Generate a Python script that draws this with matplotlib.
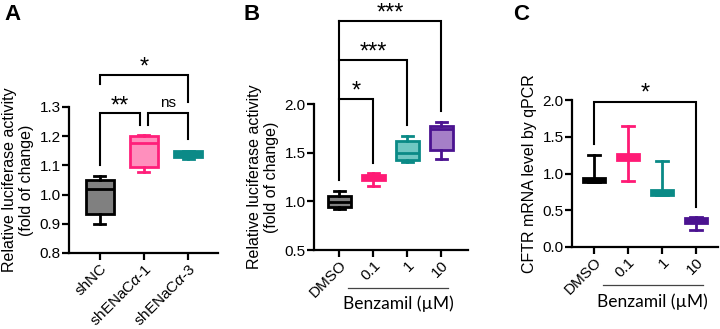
import matplotlib
matplotlib.use("Agg")
import matplotlib.pyplot as plt

plt.rcParams['font.family'] = ['Liberation Sans', 'DejaVu Sans']
plt.rcParams['mathtext.fontset'] = 'custom'
plt.rcParams['mathtext.it'] = 'Liberation Sans:italic'

# panel A: luciferase, shRNA
a_labels = ["shNC", "shENaC$\\it{\\alpha}$-1", "shENaC$\\it{\\alpha}$-3"]
a_min = [0.90, 1.076, 1.123]
a_q1 = [0.932, 1.093, 1.128]
a_med = [1.019, 1.176, 1.139]
a_q3 = [1.051, 1.202, 1.148]
a_max = [1.062, 1.205, 1.150]
a_face = ["#808080", "#ff8fbd", "#0b8a87"]
a_edge = ["black", "#ff1f7a", "#0b8a87"]

# panel B: luciferase, benzamil
b_labels = ["DMSO", "0.1", "1", "10"]
b_min = [0.92, 1.16, 1.40, 1.44]
b_q1 = [0.94, 1.216, 1.425, 1.527]
b_med = [0.99, 1.247, 1.493, 1.740]
b_q3 = [1.05, 1.274, 1.623, 1.777]
b_max = [1.106, 1.288, 1.671, 1.815]
b_face = ["#808080", "#ff1a75", "#6fc7c2", "#a57fc7"]
b_edge = ["black", "#ff1a75", "#0a8a86", "#4b1390"]

# panel C: CFTR mRNA
c_labels = ["DMSO", "0.1", "1", "10"]
c_min = [0.88, 0.90, 0.71, 0.236]
c_q1 = [0.88, 1.19, 0.71, 0.33]
c_med = [0.92, 1.23, 0.74, 0.37]
c_q3 = [0.945, 1.26, 0.77, 0.395]
c_max = [1.25, 1.65, 1.168, 0.405]
c_col = ["black", "#ff1a75", "#0a8a86", "#4b1390"]

W, H = 720, 329
fig = plt.figure(figsize=(W / 100, H / 100), dpi=100)


def make_ax(l, r, b, t):
    ax = fig.add_axes([l / W, 1 - b / H, (r - l) / W, (b - t) / H])
    for s in ["top", "right"]:
        ax.spines[s].set_visible(False)
    for s in ["left", "bottom"]:
        ax.spines[s].set_linewidth(1.6)
    ax.tick_params(width=1.6, length=5, labelsize=11, pad=1)
    return ax


def boxes(ax, mins, q1, med, q3, maxs, face, edge, width, capw):
    stats = [dict(whislo=a, q1=b, med=c, q3=d, whishi=e)
             for a, b, c, d, e in zip(mins, q1, med, q3, maxs)]
    bp = ax.bxp(stats, positions=range(len(stats)), widths=width,
                capwidths=capw, showfliers=False, patch_artist=True)
    for i in range(len(stats)):
        bp['boxes'][i].set(facecolor=face[i], edgecolor=edge[i], linewidth=2)
        bp['medians'][i].set(color=edge[i], linewidth=2)
        for k in (2 * i, 2 * i + 1):
            bp['whiskers'][k].set(color=edge[i], linewidth=2)
            bp['caps'][k].set(color=edge[i], linewidth=2)


def bracket(ax, x1, x2, y, y1, y2, txt, ty, size=17):
    ax.plot([x1, x1, x2, x2], [y1, y, y, y2], color="black", lw=1.5,
            clip_on=False, solid_joinstyle="miter")
    ax.text((x1 + x2) / 2, ty, txt, ha="center", va="center",
            fontsize=size, clip_on=False)


def xlabels(ax, labels):
    ax.set_xticks(range(len(labels)))
    ax.set_xticklabels(labels, rotation=45, ha="right", rotation_mode="anchor")


# ---- A ----
axA = make_ax(69, 218, 253, 107)
boxes(axA, a_min, a_q1, a_med, a_q3, a_max, a_face, a_edge, 0.64, 0.25)
axA.set_xlim(-0.7, 2.68)
axA.set_ylim(0.8, 1.3)
axA.set_yticks([0.8, 0.9, 1.0, 1.1, 1.2, 1.3])
axA.set_yticklabels(["0.8", "0.9", "1.0", "1.1", "1.2", "1.3"])
xlabels(axA, a_labels)
axA.set_ylabel("Relative luciferase activity\n(fold of change)", fontsize=11.5, labelpad=4)
bracket(axA, 0, 0.9, 1.28, 1.10, 1.24, "**", 1.30)
bracket(axA, 1.1, 2, 1.28, 1.24, 1.19, "ns", 1.315, size=11)
bracket(axA, 0, 2, 1.41, 1.378, 1.317, "*", 1.435)

# ---- B ----
axB = make_ax(314, 468, 250, 104)
boxes(axB, b_min, b_q1, b_med, b_q3, b_max, b_face, b_edge, 0.67, 0.3)
axB.set_xlim(-0.75, 3.78)
axB.set_ylim(0.5, 2.0)
axB.set_yticks([0.5, 1.0, 1.5, 2.0])
axB.set_yticklabels(["0.5", "1.0", "1.5", "2.0"])
xlabels(axB, b_labels)
axB.set_ylabel("Relative luciferase activity\n(fold of change)", fontsize=11.5, labelpad=4)
axB.plot([0, 0], [1.22, 2.855], color="black", lw=1.5, clip_on=False)
bracket(axB, 0, 1, 2.05, 2.05, 1.39, "*", 2.13)
bracket(axB, 0, 2, 2.45, 2.45, 1.78, "***", 2.53)
bracket(axB, 0, 3, 2.855, 2.855, 1.93, "***", 2.93)

# ---- C ----
axC = make_ax(572, 718, 247, 100)
boxes(axC, c_min, c_q1, c_med, c_q3, c_max, c_col, c_col, 0.67, 0.36)
axC.set_xlim(-0.65, 3.65)
axC.set_ylim(0, 2.0)
axC.set_yticks([0.0, 0.5, 1.0, 1.5, 2.0])
axC.set_yticklabels(["0.0", "0.5", "1.0", "1.5", "2.0"])
xlabels(axC, c_labels)
axC.set_ylabel("CFTR mRNA level by qPCR", fontsize=11.5, labelpad=4)
bracket(axC, 0, 3, 1.97, 1.40, 0.54, "*", 2.09)

# benzamil group labels
for ax in (axB, axC):
    tr = ax.get_xaxis_transform()
    ax.plot([0.25, 3.2], [-0.26, -0.26], color="#444444", lw=0.9,
            transform=tr, clip_on=False)
    ax.text(1.72, -0.37, "Benzamil (µM)", transform=tr, ha="center",
            va="center", fontsize=12.5, family=["Lato", "DejaVu Sans"])

# panel letters
for x, s in [(4, "A"), (243, "B"), (513, "C")]:
    fig.text(x / W, 1 - 15 / H, s, fontsize=16, fontweight="bold", va="center")

fig.savefig("out.png", dpi=100)
